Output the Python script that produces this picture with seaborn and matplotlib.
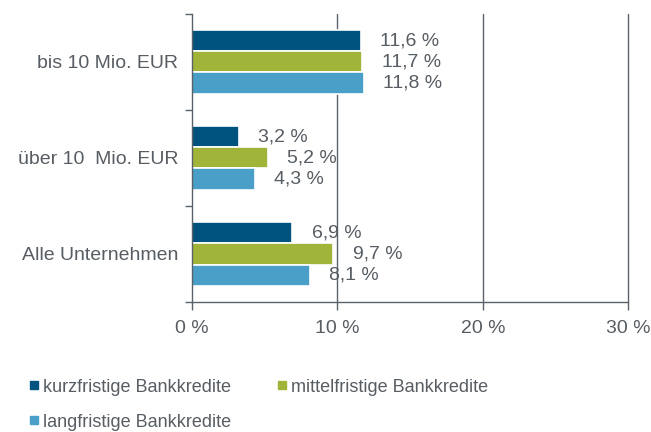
import matplotlib
matplotlib.use('Agg')
import matplotlib.pyplot as plt
from matplotlib.lines import Line2D
import pandas as pd
import seaborn as sns

categories = ['bis 10 Mio. EUR', 'über 10  Mio. EUR', 'Alle Unternehmen']
series = ['kurzfristige Bankkredite', 'mittelfristige Bankkredite', 'langfristige Bankkredite']
kurz = [11.6, 3.2, 6.9]
mittel = [11.7, 5.2, 9.7]
lang = [11.8, 4.3, 8.1]
colors = ['#00527F', '#A0B43A', '#4A9FC8']
x_ticks = [0, 10, 20, 30]

rows = []
for name, vals in zip(series, [kurz, mittel, lang]):
    for cat, v in zip(categories, vals):
        rows.append({'category': cat, 'series': name, 'value': v})
df = pd.DataFrame(rows)

sns.set_theme(style='white')
plt.rcParams['font.family'] = ['Liberation Sans', 'DejaVu Sans']
text_color = '#575D63'
line_color = '#5A6169'

fig = plt.figure(figsize=(6.51, 4.32), dpi=100)
ax = fig.add_axes([0.295, 0.301, 0.67, 0.667])

sns.barplot(data=df, y='category', x='value', hue='series', order=categories,
            hue_order=series, palette=colors, saturation=1, orient='h', width=0.66,
            edgecolor='white', linewidth=1.2, ax=ax, legend=False)

for container in ax.containers:
    labels = [f'{v:.1f} %'.replace('.', ',') for v in container.datavalues]
    ax.bar_label(container, labels=labels, padding=14, fontsize=14, color=text_color)

ax.set_xlim(0, 30)
ax.set_ylim(2.5, -0.5)
ax.set_xticks(x_ticks)
ax.set_xticklabels([f'{t} %' for t in x_ticks])
ax.set_xlabel('')
ax.set_ylabel('')
ax.set_yticks([-0.5, 0.5, 1.5, 2.5], minor=True)
ax.tick_params(axis='y', which='major', length=0, pad=10, labelsize=14, labelcolor=text_color)
ax.tick_params(axis='y', which='minor', length=5, width=1, color=line_color, direction='out', left=True)
ax.tick_params(axis='x', length=6, width=1, color=line_color, direction='out', bottom=True,
               labelsize=14, labelcolor=text_color, pad=7)

for t in x_ticks[1:]:
    ax.axvline(t, color=line_color, linewidth=1, zorder=0, clip_on=False)
for side in ['top', 'right']:
    ax.spines[side].set_visible(False)
for side in ['left', 'bottom']:
    ax.spines[side].set_color(line_color)
    ax.spines[side].set_linewidth(1)

# legend fills column-wise, so order handles to read row-wise
order = [0, 2, 1]
handles = [Line2D([], [], marker='s', linestyle='none', markersize=5.5,
                  markerfacecolor=colors[i], markeredgecolor=colors[i]) for i in order]
fig.legend(handles, [series[i] for i in order], loc='upper left', bbox_to_anchor=(0.03, 0.14),
           ncol=2, frameon=False, fontsize=13, labelcolor=text_color, handletextpad=0.1,
           handlelength=0.8, columnspacing=2.4, labelspacing=1.0, borderaxespad=0)

fig.savefig('out.png', dpi=100)
